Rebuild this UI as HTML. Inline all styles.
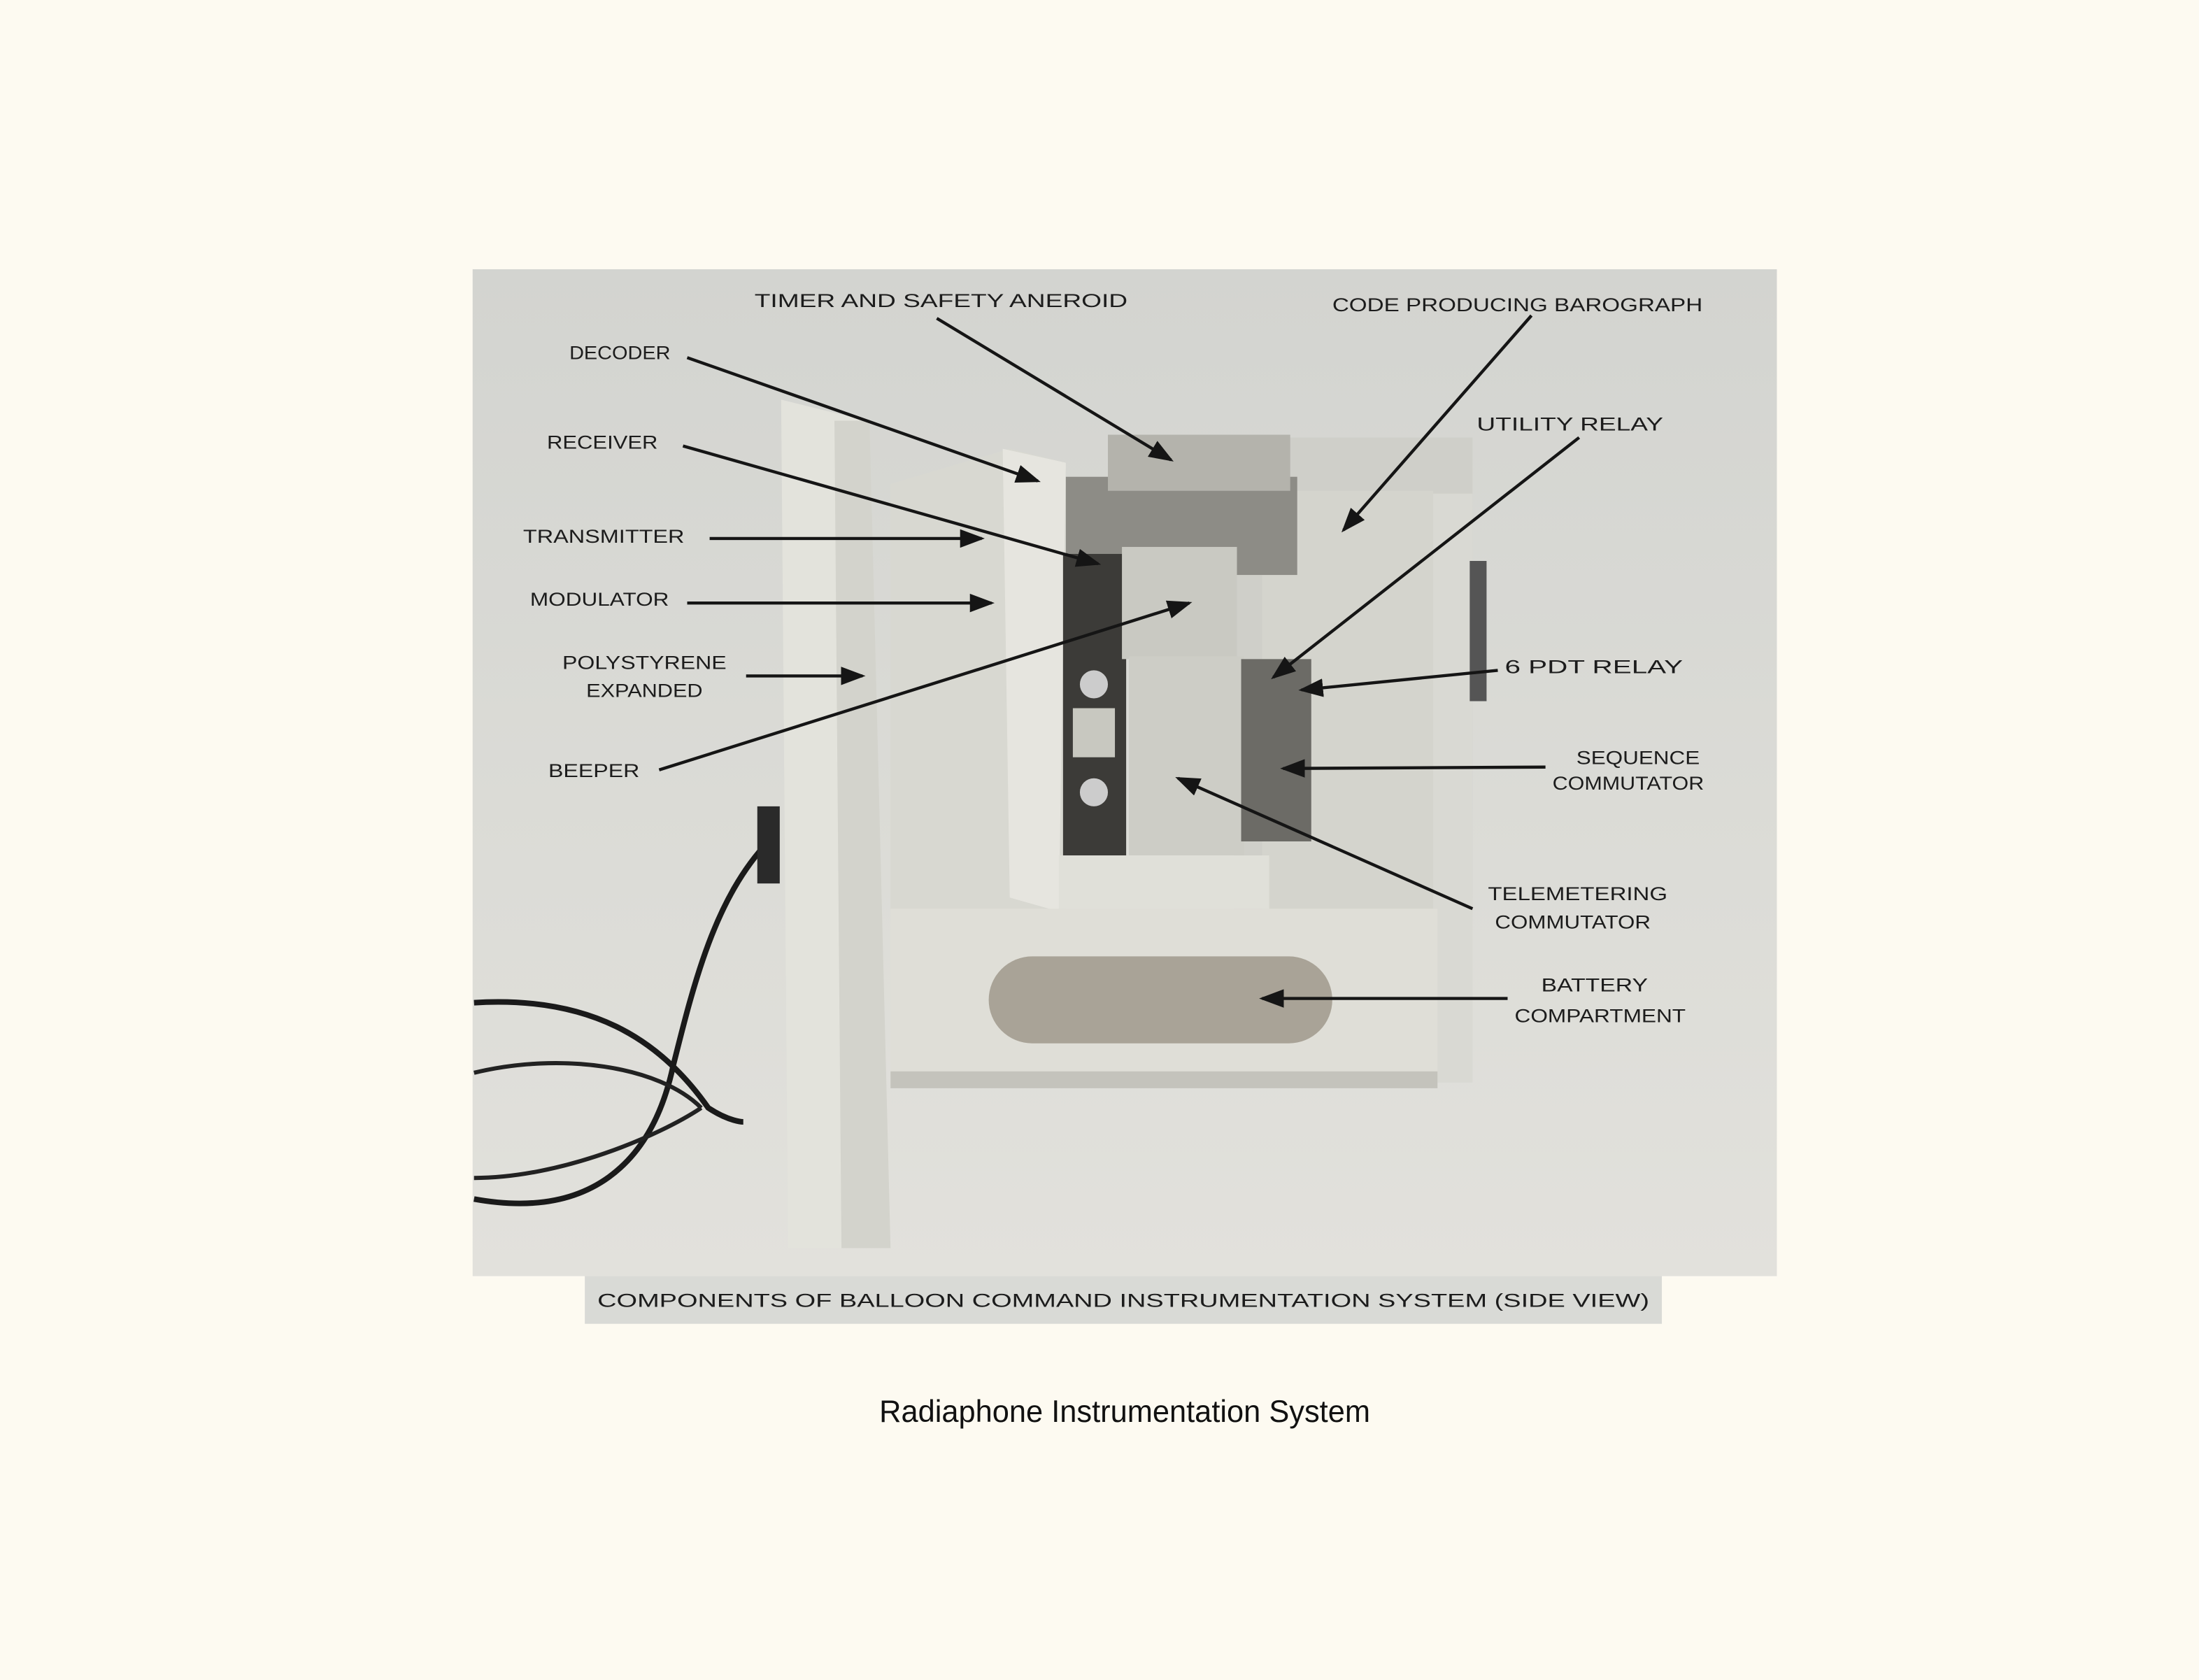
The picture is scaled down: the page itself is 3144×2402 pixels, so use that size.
<!DOCTYPE html>
<html><head><meta charset="utf-8"><style>
html,body{margin:0;padding:0;background:#fdfaf1;}
svg{display:block;}
.l{font-family:"Liberation Sans",sans-serif;font-size:13.5px;fill:#1c1c1c;}
</style></head><body>
<svg width="3144" height="2402" viewBox="0 0 1568 1198" preserveAspectRatio="none" xmlns="http://www.w3.org/2000/svg">
<defs>
<marker id="a" markerWidth="8" markerHeight="6" refX="7" refY="3" orient="auto" markerUnits="strokeWidth">
<path d="M0,0 L8,3 L0,6 z" fill="#151515"/></marker>
<linearGradient id="bg" x1="0" y1="0" x2="0" y2="1">
<stop offset="0" stop-color="#d3d4d0"/><stop offset="0.6" stop-color="#dcdcd7"/><stop offset="1" stop-color="#e2e1dc"/></linearGradient>
</defs>
<rect width="1568" height="1198" fill="#fdfaf1"/>
<!-- photo -->
<rect x="337" y="192" width="930" height="718" fill="url(#bg)"/>
<!-- cable -->
<path d="M548,600 C510,640 495,700 480,760 C465,830 420,870 338,855" stroke="#1a1a1a" stroke-width="4" fill="none"/>
<path d="M338,715 C420,710 470,740 505,790 C520,800 530,800 530,800" stroke="#1a1a1a" stroke-width="4" fill="none"/>
<path d="M338,765 C400,750 470,760 500,790" stroke="#222" stroke-width="3" fill="none"/>
<path d="M338,840 C400,840 470,810 500,790" stroke="#222" stroke-width="3" fill="none"/>
<rect x="540" y="575" width="16" height="55" fill="#2a2a2a"/>
<!-- right box body -->
<rect x="880" y="312" width="170" height="340" fill="#cfcfc9"/>
<rect x="1020" y="352" width="30" height="420" fill="#d9d9d3"/>
<!-- main box -->
<polygon points="635,345 720,320 760,330 760,650 635,650" fill="#d8d8d1"/>
<polygon points="715,320 760,330 755,650 720,640" fill="#e6e5df"/>
<rect x="900" y="350" width="122" height="300" fill="#d4d4cd"/>
<!-- mechanism -->
<rect x="760" y="340" width="165" height="70" fill="#8d8c86"/>
<rect x="790" y="310" width="130" height="40" fill="#b4b3ac"/>
<rect x="758" y="395" width="45" height="215" fill="#3c3b38"/>
<rect x="765" y="505" width="30" height="35" fill="#c8c8c0"/>
<circle cx="780" cy="488" r="10" fill="#ccc"/><circle cx="780" cy="565" r="10" fill="#ccc"/>
<rect x="800" y="390" width="82" height="80" fill="#c9c9c2"/>
<rect x="805" y="468" width="82" height="142" fill="#cdcdc6"/>
<rect x="885" y="470" width="50" height="130" fill="#6c6b66"/>
<rect x="755" y="610" width="150" height="38" fill="#e0e0d9"/>
<!-- left panel -->
<polygon points="557,285 618,300 635,890 562,890" fill="#e3e3dc"/>
<polygon points="595,300 620,300 635,890 600,890" fill="#d3d3cc"/>
<!-- battery box -->
<rect x="635" y="648" width="390" height="118" fill="#dfded7"/>
<rect x="705" y="682" width="245" height="62" rx="31" fill="#a9a397"/>
<rect x="635" y="764" width="390" height="12" fill="#c4c3bc"/>
<rect x="1048" y="400" width="12" height="100" fill="#555"/>
<!-- arrows -->
<g stroke="#151515" stroke-width="2.2" fill="none" marker-end="url(#a)">
<line x1="668" y1="227" x2="835" y2="328"/>
<line x1="1092" y1="225" x2="958" y2="378"/>
<line x1="490" y1="255" x2="740" y2="343"/>
<line x1="1126" y1="312" x2="908" y2="483"/>
<line x1="487" y1="318" x2="783" y2="402"/>
<line x1="506" y1="384" x2="700" y2="384"/>
<line x1="490" y1="430" x2="707" y2="430"/>
<line x1="532" y1="482" x2="615" y2="482"/>
<line x1="1068" y1="478" x2="928" y2="492"/>
<line x1="470" y1="549" x2="848" y2="430"/>
<line x1="1102" y1="547" x2="915" y2="548"/>
<line x1="1050" y1="648" x2="840" y2="555"/>
<line x1="1075" y1="712" x2="900" y2="712"/>
</g>
<!-- labels -->
<g class="l">
<text x="538" y="219" textLength="266" lengthAdjust="spacingAndGlyphs">TIMER AND SAFETY ANEROID</text>
<text x="950" y="222" textLength="264" lengthAdjust="spacingAndGlyphs">CODE PRODUCING BAROGRAPH</text>
<text x="406" y="256" textLength="72" lengthAdjust="spacingAndGlyphs">DECODER</text>
<text x="1053" y="307" textLength="133" lengthAdjust="spacingAndGlyphs">UTILITY RELAY</text>
<text x="390" y="320" textLength="79" lengthAdjust="spacingAndGlyphs">RECEIVER</text>
<text x="373" y="387" textLength="115" lengthAdjust="spacingAndGlyphs">TRANSMITTER</text>
<text x="378" y="432" textLength="99" lengthAdjust="spacingAndGlyphs">MODULATOR</text>
<text x="401" y="477" textLength="117" lengthAdjust="spacingAndGlyphs">POLYSTYRENE</text>
<text x="418" y="497" textLength="83" lengthAdjust="spacingAndGlyphs">EXPANDED</text>
<text x="1073" y="480" textLength="127" lengthAdjust="spacingAndGlyphs">6 PDT RELAY</text>
<text x="391" y="554" textLength="65" lengthAdjust="spacingAndGlyphs">BEEPER</text>
<text x="1124" y="545" textLength="88" lengthAdjust="spacingAndGlyphs">SEQUENCE</text>
<text x="1107" y="563" textLength="108" lengthAdjust="spacingAndGlyphs">COMMUTATOR</text>
<text x="1061" y="642" textLength="128" lengthAdjust="spacingAndGlyphs">TELEMETERING</text>
<text x="1066" y="662" textLength="111" lengthAdjust="spacingAndGlyphs">COMMUTATOR</text>
<text x="1099" y="707" textLength="76" lengthAdjust="spacingAndGlyphs">BATTERY</text>
<text x="1080" y="729" textLength="122" lengthAdjust="spacingAndGlyphs">COMPARTMENT</text>
</g>
<!-- caption strip -->
<rect x="417" y="910" width="768" height="34" fill="#d9dad6"/>
<text class="l" x="426" y="932" font-size="14.5" textLength="750" lengthAdjust="spacingAndGlyphs">COMPONENTS OF BALLOON COMMAND INSTRUMENTATION SYSTEM (SIDE VIEW)</text>
<text x="802" y="1014" text-anchor="middle" font-family="Liberation Sans Narrow, Liberation Sans, sans-serif" font-size="22" fill="#111" textLength="350" lengthAdjust="spacingAndGlyphs">Radiaphone Instrumentation System</text>
</svg>
</body></html>
